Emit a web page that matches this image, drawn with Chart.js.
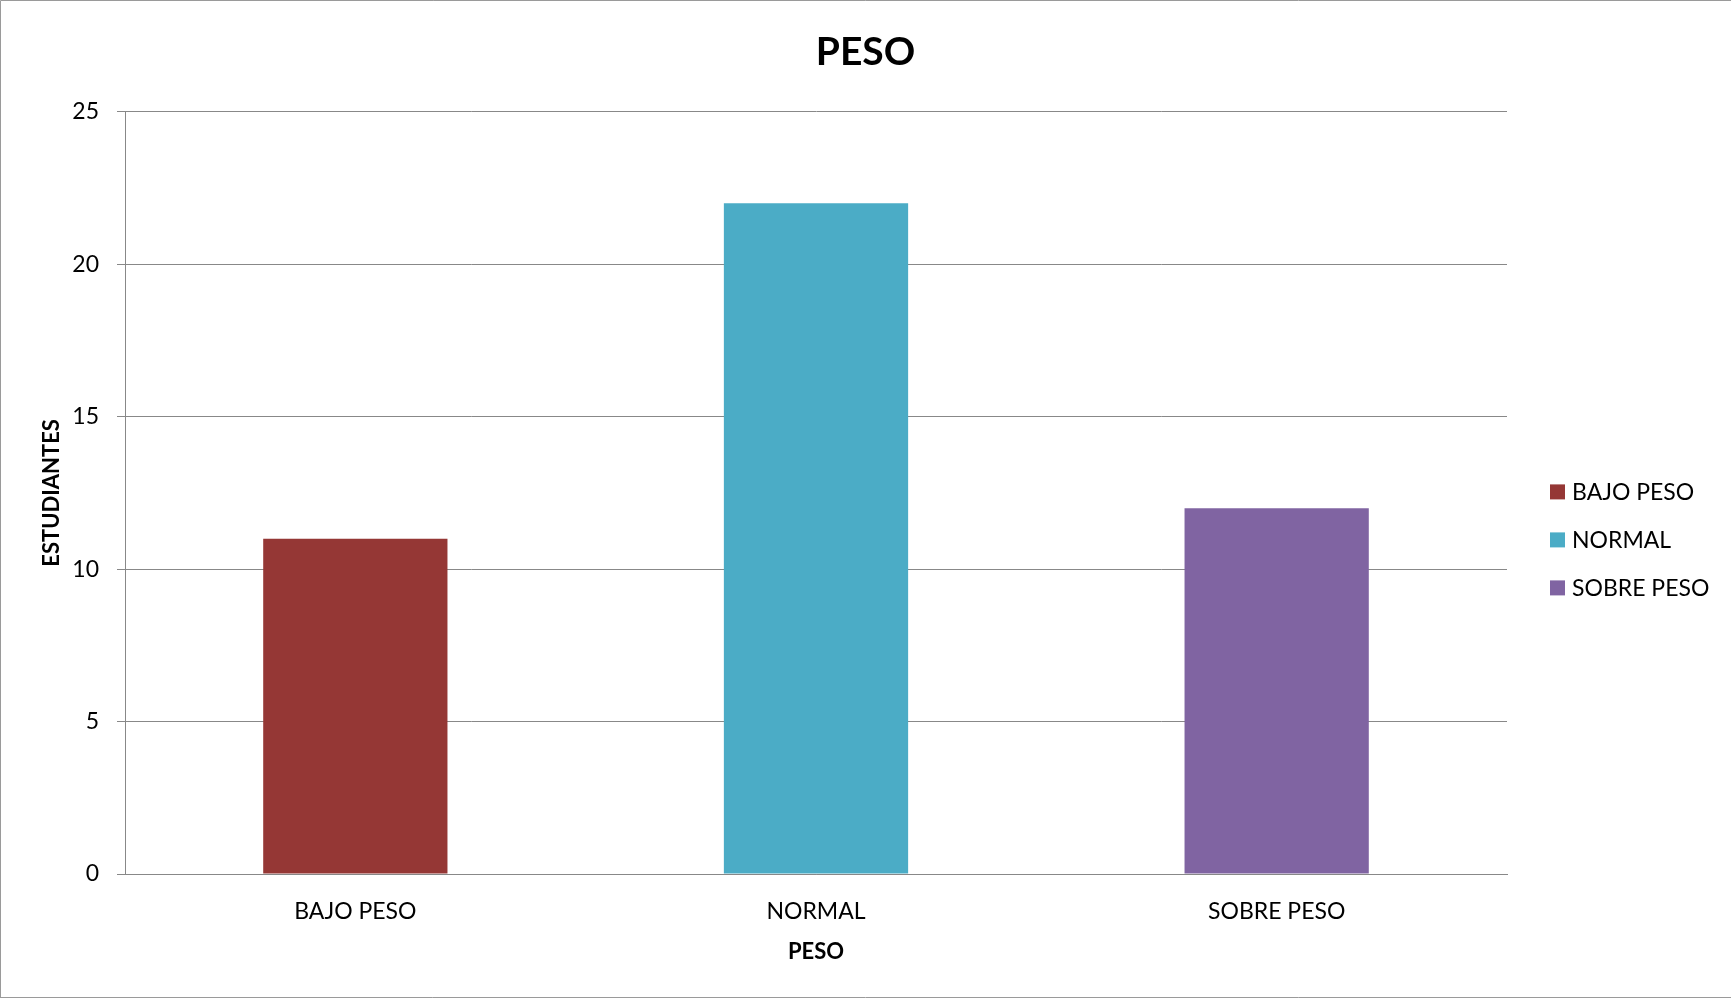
<!DOCTYPE html>
<html>
<head>
<meta charset="utf-8">
<title>PESO</title>
<script src="https://cdn.jsdelivr.net/npm/chart.js@4.4.1/dist/chart.umd.min.js"></script>
<style>
  html, body { margin: 0; padding: 0; background: #ffffff; }
  canvas { display: block; }
</style>
</head>
<body>
<canvas id="chart" width="1731" height="999"></canvas>
<script>
// Students per weight category
const categories = ['BAJO PESO', 'NORMAL', 'SOBRE PESO'];
const students = [11, 22, 12];
const barColors = ['#953735', '#4BACC6', '#8064A2'];
const yTicks = { min: 0, max: 25, step: 5 };

const FONT = "Lato, 'Open Sans', sans-serif";
const GRID = '#888888';

// White background plus the thin frame around the chart
const framePlugin = {
  id: 'frame',
  beforeDraw(chart) {
    const { ctx, width, height } = chart;
    ctx.save();
    ctx.fillStyle = '#ffffff';
    ctx.fillRect(0, 0, width, height);
    ctx.strokeStyle = '#9a9a9a';
    ctx.lineWidth = 1;
    ctx.beginPath();
    ctx.moveTo(0.5, height - 1.5);
    ctx.lineTo(0.5, 0.5);
    ctx.lineTo(width, 0.5);
    ctx.moveTo(0, height - 1.5);
    ctx.lineTo(width, height - 1.5);
    ctx.stroke();
    ctx.restore();
  }
};

// Legend at the right: one colour square per category
const sideLegend = {
  id: 'sideLegend',
  afterDraw(chart) {
    const { ctx, chartArea } = chart;
    const ds = chart.data.datasets[0];
    const labels = chart.data.labels;
    const rowGap = 48;
    const box = 15;
    const x = chartArea.right + 43;
    const midY = (chartArea.top + chartArea.bottom) / 2 + 47;
    const firstY = midY - rowGap * (labels.length - 1) / 2;
    ctx.save();
    ctx.font = `23px ${FONT}`;
    ctx.textBaseline = 'middle';
    ctx.textAlign = 'left';
    labels.forEach((label, i) => {
      const y = firstY + i * rowGap;
      ctx.fillStyle = ds.backgroundColor[i];
      ctx.fillRect(x, y - box / 2, box, box);
      ctx.fillStyle = '#000000';
      ctx.fillText(label, x + box + 7, y + 1);
    });
    ctx.restore();
  }
};

new Chart(document.getElementById('chart'), {
  type: 'bar',
  data: {
    labels: categories,
    datasets: [{
      label: 'ESTUDIANTES',
      data: students,
      backgroundColor: barColors,
      borderWidth: 0,
      barPercentage: 0.4,
      categoryPercentage: 1.0
    }]
  },
  options: {
    responsive: false,
    animation: false,
    devicePixelRatio: 1,
    layout: { padding: 0 },
    plugins: {
      legend: { display: false },
      tooltip: { enabled: false },
      title: {
        display: true,
        text: 'PESO',
        color: '#000000',
        font: { family: FONT, size: 39, weight: 'bold', lineHeight: 1.2 },
        padding: { top: 29, bottom: 36 }
      }
    },
    scales: {
      x: {
        grid: { display: false },
        border: { display: true, color: GRID, width: 1 },
        ticks: {
          color: '#000000',
          font: { family: FONT, size: 23 },
          padding: 16,
          maxRotation: 0
        },
        title: {
          display: true,
          text: 'PESO',
          color: '#000000',
          font: { family: FONT, size: 22, weight: 'bold', lineHeight: 1.2 },
          padding: { top: 0, bottom: 34 }
        },
        afterFit(scale) { scale.height = 125; }
      },
      y: {
        min: yTicks.min,
        max: yTicks.max,
        grid: { color: GRID, lineWidth: 1, tickLength: 8, drawTicks: true },
        border: { display: true, color: GRID, width: 1 },
        ticks: {
          stepSize: yTicks.step,
          color: '#000000',
          font: { family: FONT, size: 23 },
          padding: 18
        },
        title: {
          display: true,
          text: 'ESTUDIANTES',
          color: '#000000',
          font: { family: FONT, size: 22, weight: 'bold', lineHeight: 1.2 },
          padding: { top: 39, bottom: 0 }
        },
        afterFit(scale) { scale.width = 125; }
      },
      // Empty right-hand axis that keeps room for the legend
      side: {
        type: 'linear',
        position: 'right',
        display: true,
        grid: { display: false, drawTicks: false },
        border: { display: false },
        ticks: { display: false },
        afterFit(scale) { scale.width = 224; }
      }
    }
  },
  plugins: [framePlugin, sideLegend]
});
</script>
</body>
</html>
